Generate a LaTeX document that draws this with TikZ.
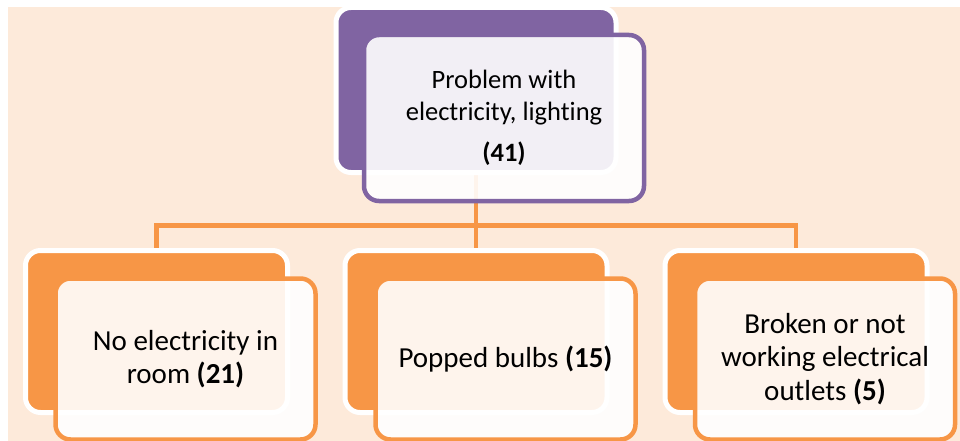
\documentclass[tikz,border=0pt]{standalone}
\usepackage{fontspec}
\setmainfont{Carlito}[Ligatures=NoCommon]
\definecolor{peach}{RGB}{253,234,218}
\definecolor{lilac}{RGB}{128,100,162}
\definecolor{tangerine}{RGB}{247,150,70}
\pgfdeclarelayer{bg}
\pgfsetlayers{bg,main}

\begin{document}
\begin{tikzpicture}[x=1pt,y=-1pt,
    link/.style={draw=tangerine,line width=4.5pt}]
  \useasboundingbox (0,0) rectangle (960,441);

  % back cards
  \begin{scope}[every node/.style={rectangle,rounded corners=15pt,draw=white,line width=5pt,
      fill=tangerine,minimum width=262pt,minimum height=162pt}]
    \node[fill=lilac,minimum width=280pt,minimum height=165pt] (p) at (476,90) {};
    \node (c1) at (156.5,331.5) {};
    \node (c2) at (476,331.5) {};
    \node (c3) at (796,331.5) {};
  \end{scope}

  \begin{pgfonlayer}{bg}
    \fill[peach] (8,7) rectangle (960,441);
    \coordinate (bus) at (476,225.5);
    \draw[link] (p.south) -- (c2.north);
    \draw[link] (p.south |- bus) -| (c1.north);
    \draw[link] (p.south |- bus) -| (c3.north);
  \end{pgfonlayer}

  % front cards with the text
  \begin{scope}[every node/.style={rectangle,rounded corners=15pt,draw=tangerine,line width=4.5pt,
      fill=white,fill opacity=.9,text opacity=1,minimum width=260pt,minimum height=161pt,
      align=center,font=\fontsize{29}{33.5}\selectfont}]
    \node[draw=lilac,minimum width=280pt,minimum height=166pt,font=\fontsize{26.5}{32}\selectfont]
      (pt) at (504,118) {Problem with\\electricity, lighting\\[9pt]\textbf{(41)}};
    \node (t1) at (185.5,359) {No electricity in\\room \textbf{(21)}};
    \node (t2) at (505.5,359) {Popped bulbs \textbf{(15)}};
    \node (t3) at (825,359) {Broken or not\\working electrical\\outlets \textbf{(5)}};
  \end{scope}

\end{tikzpicture}
\end{document}
